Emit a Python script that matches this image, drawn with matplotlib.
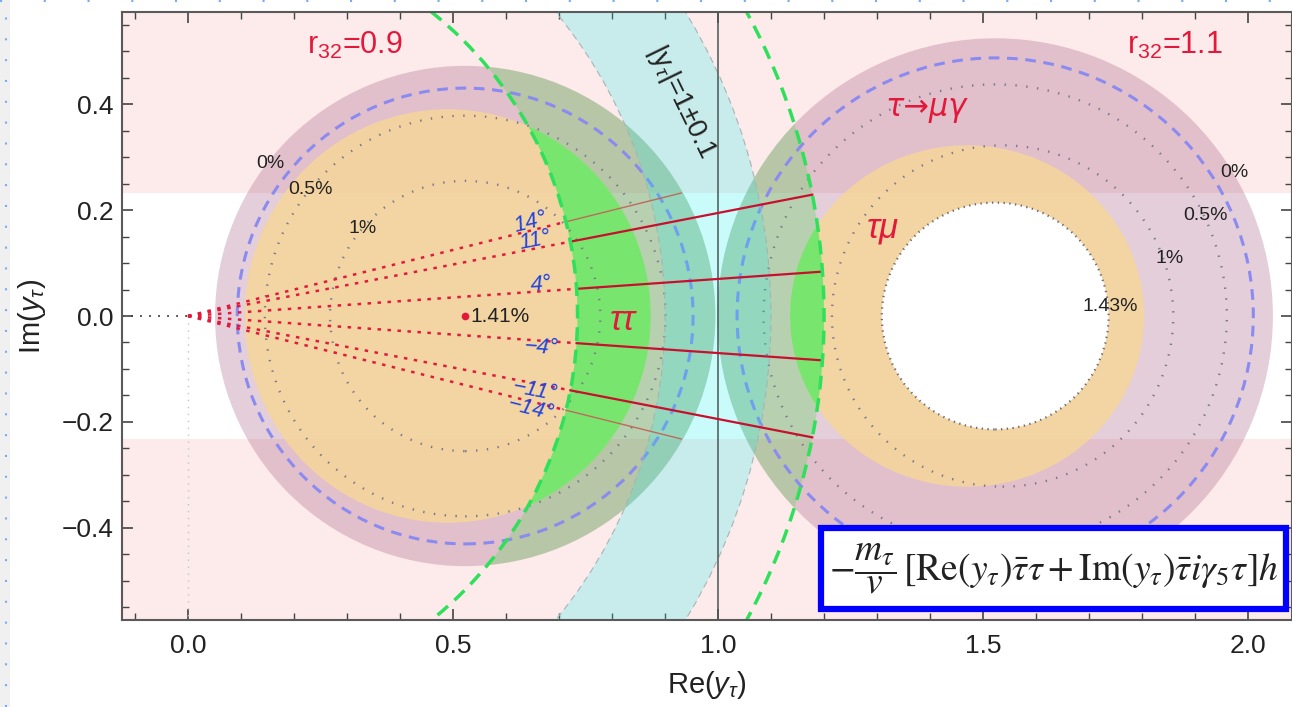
import numpy as np
import matplotlib.pyplot as plt
from matplotlib.patches import Circle, Ellipse, Annulus, Rectangle
from matplotlib.lines import Line2D
from matplotlib.ticker import MultipleLocator, FixedLocator

plt.rcParams['font.family'] = ['Liberation Sans', 'DejaVu Sans']
plt.rcParams['mathtext.fontset'] = 'custom'
plt.rcParams['mathtext.rm'] = 'Liberation Sans'
plt.rcParams['mathtext.it'] = 'Liberation Sans:italic'
plt.rcParams['mathtext.bf'] = 'Liberation Sans:bold'

# values
band_im = 0.232                 # |Im(y_tau)| above this is excluded (pink band)
ring_r = [0.9, 1.1]             # |y_tau| = 1 +- 0.1
tautau_r = [0.735, 1.2]         # h -> tau tau allowed |y_tau|
ray_angles = [14, 11, 4, -4, -11, -14]   # degrees

# left: r32 = 0.9, right: r32 = 1.1
disk_x = [0.523, 1.523]         # tau -> mu gamma disks
disk_r = [0.472, 0.524]
hole_r = 0.214                  # right disk: 1.43% hole
taumu_x = [0.49, 1.47]          # tau mu regions (ellipses)
taumu_w = [0.766, 0.668]
taumu_h = [0.78, 0.644]
zero_r = [0.43, 0.487]          # 0% contour (dashed)
half_r = [0.378, 0.437]         # 0.5% contour
one_x = [0.523, 1.537]          # 1% contour
one_r = [0.255, 0.322]
center_pct = ['1.41%', '1.43%']

pct_labels = ['0%', '0.5%', '1%', '0%', '0.5%', '1%']
pct_xy = [(0.155, 0.287), (0.232, 0.238), (0.33, 0.166),
          (1.975, 0.27), (1.919, 0.19), (1.853, 0.109)]

xmin, xmax = -0.1245, 2.083
ymin, ymax = -0.5736, 0.5736

red = '#e3193c'
pink = '#fdeaea'

fig = plt.figure(figsize=(12.92, 7.07), dpi=100)
ax = fig.add_axes([122 / 1292, 1 - 620 / 707, 1170 / 1292, 608 / 707])
ax.set_xlim(xmin, xmax)
ax.set_ylim(ymin, ymax)

# excluded band (pink)
ax.axhspan(band_im, 1, color=pink, lw=0, zorder=0)
ax.axhspan(-1, -band_im, color=pink, lw=0, zorder=0)

# tau -> mu gamma disks
mauve = '#b47a98'
mauve_l = Circle((disk_x[0], 0), disk_r[0], fc=mauve, alpha=0.37, lw=0, zorder=1)
mauve_r = Annulus((disk_x[1], 0), disk_r[1], disk_r[1] - hole_r, fc=mauve, alpha=0.37, lw=0, zorder=1)
ax.add_patch(mauve_l)
ax.add_patch(mauve_r)

# tau mu regions
orange_l = Ellipse((taumu_x[0], 0), taumu_w[0], taumu_h[0], fc='#f7d69a', alpha=0.85, lw=0, zorder=2)
orange_r = Ellipse((taumu_x[1], 0), taumu_w[1], taumu_h[1], fc='#f7d69a', alpha=0.85, lw=0, zorder=2)
ax.add_patch(orange_l)
ax.add_patch(orange_r)
ax.add_patch(Circle((disk_x[1], 0), hole_r, fc='white', lw=0, zorder=2.5))

# h -> tau tau band, light over the disks, strong over tau mu
width_tt = tautau_r[1] - tautau_r[0]
for clip in [mauve_l, mauve_r]:
    g = Annulus((0, 0), tautau_r[1], width_tt, fc='#48d848', alpha=0.28, lw=0, zorder=3)
    ax.add_patch(g)
    g.set_clip_path(clip)
for clip in [orange_l, orange_r]:
    g = Annulus((0, 0), tautau_r[1], width_tt, fc='#50f060', alpha=0.65, lw=0, zorder=3.2)
    ax.add_patch(g)
    g.set_clip_path(clip)

# contours
for i in range(2):
    ax.add_patch(Circle((disk_x[i], 0), zero_r[i], fill=False, ec='#8a8af0', lw=2.2,
                        ls=(0, (3.5, 2.5)), zorder=4))
    ax.add_patch(Circle((disk_x[i], 0), half_r[i], fill=False, ec='#7a7a8c', lw=1.7,
                        ls=(0, (0.6, 4)), zorder=4))
    ax.add_patch(Circle((one_x[i], 0), one_r[i], fill=False, ec='#7a7a8c', lw=1.7,
                        ls=(0, (0.6, 4)), zorder=4))
ax.add_patch(Circle((disk_x[1], 0), hole_r, fill=False, ec='#6a6a7a', lw=1.6,
                    ls=(0, (0.6, 2)), zorder=4))

# |y_tau| = 1 +- 0.1 ring
ax.add_patch(Annulus((0, 0), ring_r[1], ring_r[1] - ring_r[0], fc='#10f0f0', alpha=0.22, lw=0, zorder=5))
for r in ring_r:
    ax.add_patch(Circle((0, 0), r, fill=False, ec='#a8b4b4', lw=0.8, ls=(0, (6, 4)), zorder=5))

# axes-like guide lines
ax.plot([xmin, 0], [0, 0], color='#404040', lw=1.3, ls=(0, (1, 4)), zorder=5)
ax.plot([0, 0], [0, ymin], color='#c4c4c4', lw=1, ls=(0, (1, 4)), zorder=5)
ax.axvline(1.0, color='#4a5656', lw=1.1, zorder=6)

# rays
for a in ray_angles:
    th = np.radians(a)
    r0 = tautau_r[0]
    ax.plot([0, r0 * np.cos(th)], [0, r0 * np.sin(th)], color=red, lw=1.8,
            ls=(0, (1.4, 2.6)), zorder=7)
    if abs(a) < 14:
        r1 = tautau_r[1]
        ax.plot([r0 * np.cos(th), r1 * np.cos(th)], [r0 * np.sin(th), r1 * np.sin(th)],
                color='#c8102e', lw=1.6, zorder=7)
    else:
        r1 = band_im / abs(np.sin(th))
        ax.plot([r0 * np.cos(th), r1 * np.cos(th)], [r0 * np.sin(th), r1 * np.sin(th)],
                color='#c06a5a', lw=1.0, zorder=7)
    rl = 0.682
    lab = '%d°' % a if a > 0 else '−%d°' % -a
    ax.text(rl * np.cos(th) - 0.015, rl * np.sin(th) + 0.012 * np.sign(a), lab,
            color='#2244dd', fontsize=16, style='italic', rotation=a,
            ha='center', va='center', zorder=9)

# tau tau allowed boundaries
for r in tautau_r:
    ax.add_patch(Circle((0, 0), r, fill=False, ec='#2ee05a', lw=2.5, ls=(0, (4, 2.5)), zorder=8))

# labels
for s, (x, y) in zip(pct_labels, pct_xy):
    ax.text(x, y, s, fontsize=14, color='#222222', ha='center', va='center', zorder=9)
ax.plot([disk_x[0]], [0], 'o', color=red, ms=4.5, zorder=9)
ax.text(disk_x[0] + 0.01, 0, center_pct[0], fontsize=15, color='#222222', ha='left', va='center', zorder=9)
ax.text(1.74, 0.017, center_pct[1], fontsize=14, color='#222222', ha='center', va='center', zorder=9)

ax.text(0.315, 0.511, r'r$_{32}$=0.9', fontsize=22, color=red, ha='center', va='center', zorder=9)
ax.text(1.862, 0.511, r'r$_{32}$=1.1', fontsize=22, color=red, ha='center', va='center', zorder=9)
ax.text(0.82, -0.008, 'ττ', fontsize=25, color=red, style='italic', ha='center', va='center', zorder=9)
ax.text(1.31, 0.166, 'τμ', fontsize=25, color=red, style='italic', ha='center', va='center', zorder=9)
ax.text(1.392, 0.392, 'τ→μγ', fontsize=22, color=red, style='italic', family=['DejaVu Sans'],
        ha='center', va='center', zorder=9)
ax.text(0.93, 0.405, r'|y$_{\tau}$|=1±0.1', fontsize=20, color='#222222', rotation=-64,
        ha='center', va='center', zorder=9)

# Lagrangian box
ax.add_patch(Rectangle((0.5975, 0.018), 0.3975, 0.133, transform=ax.transAxes,
                       fc='white', ec='#0000ff', lw=4.5, zorder=10))
ax.text(0.7966, 0.0847,
        r'$-\dfrac{m_\tau}{v}\,[\mathrm{Re}(y_\tau)\bar{\tau}\tau+\mathrm{Im}(y_\tau)\bar{\tau}i\gamma_5\tau]h$',
        transform=ax.transAxes, math_fontfamily='stix', fontsize=27, color='#222222',
        ha='center', va='center', zorder=10.5)

# ticks and frame
ax.xaxis.set_major_locator(FixedLocator([0.0, 0.5, 1.0, 1.5, 2.0]))
ax.xaxis.set_minor_locator(MultipleLocator(0.1))
ax.yaxis.set_major_locator(FixedLocator([-0.4, -0.2, 0.0, 0.2, 0.4]))
ax.yaxis.set_minor_locator(MultipleLocator(0.05))
ax.xaxis.set_major_formatter(plt.FuncFormatter(lambda v, p: ('%.1f' % v).replace('-', '−')))
ax.yaxis.set_major_formatter(plt.FuncFormatter(lambda v, p: ('%.1f' % v).replace('-', '−')))
ax.tick_params(which='both', direction='in', top=True, right=True, colors='#444444', labelcolor='#222222')
ax.tick_params(which='major', length=8, width=1.2, labelsize=19)
ax.tick_params(axis='x', which='major', pad=10)
ax.tick_params(axis='y', which='major', pad=6)
ax.tick_params(which='minor', length=5, width=1.0)
for sp in ax.spines.values():
    sp.set_color('#5a5a5a')
    sp.set_linewidth(1.5)
    sp.set_zorder(11)

ax.set_xlabel(r'Re($y_\tau$)', fontsize=21, color='#222222', labelpad=8)
ax.set_ylabel(r'Im($y_\tau$)', fontsize=21, color='#222222', labelpad=10)

# page margin from the screenshot
fig.add_artist(Rectangle((0, 0), 10 / 1292, 1, transform=fig.transFigure, fc='#f0f0f0', lw=0))
fig.add_artist(Line2D([6 / 1292, 6 / 1292], [0, 1], transform=fig.transFigure, color='#7aaaf0',
                      lw=1.5, ls=(0, (1, 9))))
fig.add_artist(Line2D([0, 1], [1 - 1 / 707, 1 - 1 / 707], transform=fig.transFigure, color='#7aaaf0',
                      lw=1.5, ls=(0, (1, 20))))

fig.savefig('out.png', dpi=100)
